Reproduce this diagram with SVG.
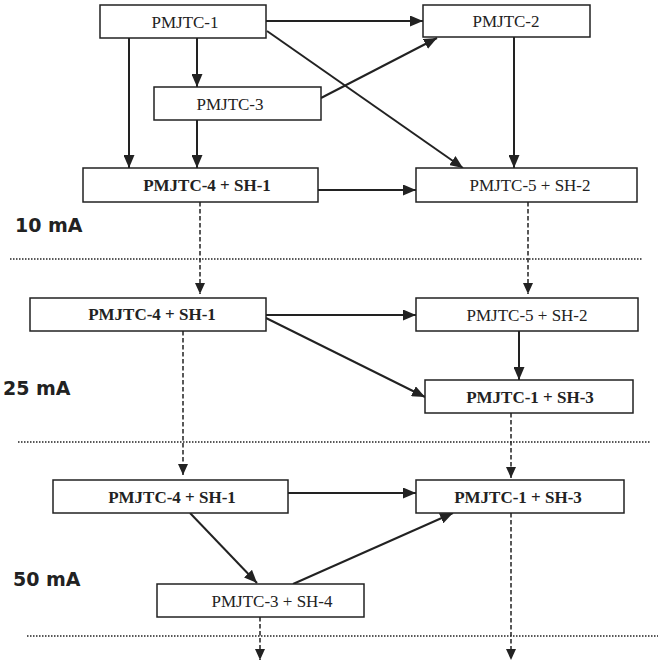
<svg xmlns="http://www.w3.org/2000/svg" width="665" height="664" viewBox="0 0 665 664">
<style>
.box{fill:#fff;stroke:#222;stroke-width:1.5}
.t{font-family:"Liberation Serif","Times New Roman",serif;font-size:17px;fill:#222;text-anchor:middle}
.b{font-weight:bold}
.lvl{font-family:"DejaVu Sans",Verdana,sans-serif;font-weight:bold;font-size:19px;fill:#222}
.s{stroke:#222;stroke-width:2;fill:none;marker-end:url(#ah)}
.d{stroke:#222;stroke-width:1.5;fill:none;stroke-dasharray:4.5 2.5;marker-end:url(#ahd)}
.dot{stroke:#222;stroke-width:1.6;stroke-dasharray:1.5 1.5;fill:none}
</style>
<defs>
<marker id="ah" viewBox="0 0 13 11" refX="13" refY="5.5" markerWidth="13" markerHeight="11" markerUnits="userSpaceOnUse" orient="auto"><path d="M0,0 L13,5.5 L0,11 z" fill="#222"/></marker>
<marker id="ahd" viewBox="0 0 11 10" refX="11" refY="5" markerWidth="11" markerHeight="10" markerUnits="userSpaceOnUse" orient="auto"><path d="M0,0 L11,5 L0,10 z" fill="#222"/></marker>
</defs>
<g id="levels">
<line class="dot" x1="10" y1="259" x2="642" y2="259"/>
<line class="dot" x1="18" y1="442" x2="650" y2="442"/>
<line class="dot" x1="27" y1="636" x2="658" y2="636"/>
<text class="lvl" x="15" y="232">10 mA</text>
<text class="lvl" x="3" y="395">25 mA</text>
<text class="lvl" x="13" y="586">50 mA</text>
</g>
<g id="connectors">
<line class="s" x1="266" y1="21" x2="423" y2="21"/>
<line class="s" x1="197" y1="38" x2="197" y2="87"/>
<line class="s" x1="129" y1="38" x2="129" y2="168"/>
<line class="s" x1="197" y1="120" x2="197" y2="168"/>
<line class="s" x1="321" y1="98" x2="437" y2="38"/>
<line class="s" x1="267" y1="31" x2="463" y2="168"/>
<line class="s" x1="514" y1="37" x2="514" y2="168"/>
<line class="s" x1="318" y1="190" x2="416" y2="190"/>
<line class="d" x1="200" y1="202" x2="200" y2="294"/>
<line class="d" x1="528" y1="202" x2="528" y2="294"/>
<line class="s" x1="266" y1="315" x2="416" y2="315"/>
<line class="s" x1="266" y1="318" x2="425" y2="397"/>
<line class="s" x1="519" y1="331" x2="519" y2="380"/>
<line class="d" x1="183" y1="331" x2="183" y2="475"/>
<line class="d" x1="511" y1="413" x2="511" y2="478"/>
<line class="s" x1="288" y1="493" x2="416" y2="493"/>
<line class="s" x1="190" y1="513" x2="257" y2="583"/>
<line class="s" x1="293" y1="584" x2="453" y2="513"/>
<line class="d" x1="260" y1="617" x2="260" y2="660"/>
<line class="d" x1="511" y1="513" x2="511" y2="660"/>
</g>
<g id="n1"><rect class="box" x="100" y="5" width="166" height="33"/><text class="t" x="185" y="28">PMJTC-1</text></g>
<g id="n2"><rect class="box" x="423" y="5" width="167" height="32"/><text class="t" x="506" y="27">PMJTC-2</text></g>
<g id="n3"><rect class="box" x="154" y="87" width="167" height="33"/><text class="t" x="230" y="110">PMJTC-3</text></g>
<g id="n4a"><rect class="box" x="83" y="168" width="235" height="34"/><text class="t b" x="207" y="191">PMJTC-4 + SH-1</text></g>
<g id="n5a"><rect class="box" x="416" y="168" width="221" height="34"/><text class="t" x="530" y="191">PMJTC-5 + SH-2</text></g>
<g id="n4b"><rect class="box" x="30" y="298" width="236" height="33"/><text class="t b" x="152" y="320">PMJTC-4 + SH-1</text></g>
<g id="n5b"><rect class="box" x="416" y="298" width="222" height="33"/><text class="t" x="527" y="321">PMJTC-5 + SH-2</text></g>
<g id="n1b"><rect class="box" x="425" y="380" width="208" height="33"/><text class="t b" x="530" y="403">PMJTC-1 + SH-3</text></g>
<g id="n4c"><rect class="box" x="53" y="480" width="235" height="33"/><text class="t b" x="172" y="503">PMJTC-4 + SH-1</text></g>
<g id="n1c"><rect class="box" x="416" y="480" width="208" height="33"/><text class="t b" x="518" y="503">PMJTC-1 + SH-3</text></g>
<g id="n3c"><rect class="box" x="157" y="584" width="207" height="33"/><text class="t" x="272" y="607">PMJTC-3 + SH-4</text></g>
</svg>
